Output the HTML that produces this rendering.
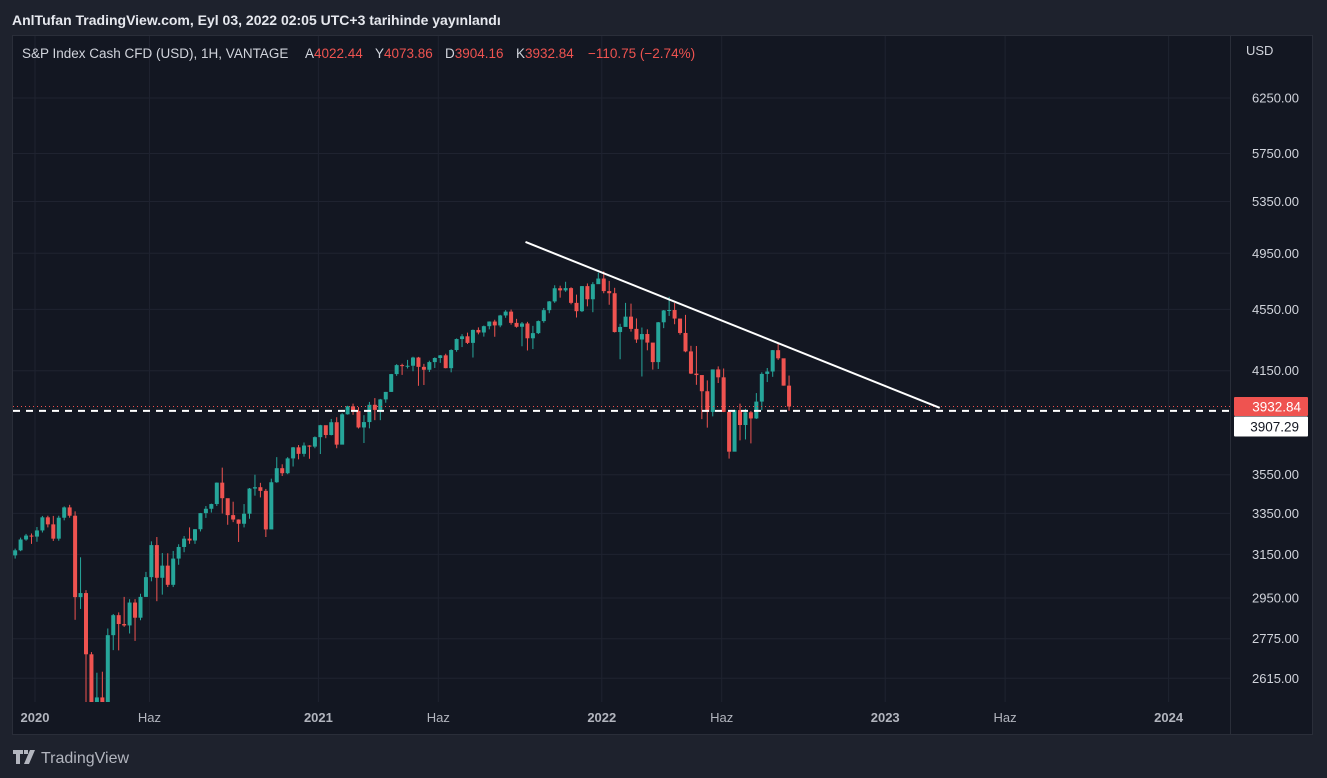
<!DOCTYPE html>
<html><head><meta charset="utf-8"><style>
html,body{margin:0;padding:0;background:#1e222d;width:1327px;height:778px;overflow:hidden;font-family:"Liberation Sans",sans-serif;}
svg text{font-family:"Liberation Sans",sans-serif;}
</style></head><body>
<svg id="chart" width="1327" height="778" xmlns="http://www.w3.org/2000/svg">
<rect x="0" y="0" width="1327" height="778" fill="#1e222d"/>
<text x="12" y="25" fill="#e6e8ee" font-size="14" font-weight="bold">AnlTufan TradingView.com, Eyl 03, 2022 02:05 UTC+3 tarihinde yayınlandı</text>
<rect x="12.5" y="35.5" width="1300" height="699" fill="#131722" stroke="#2a2e39"/>
<line x1="1230.5" y1="36" x2="1230.5" y2="734" stroke="#2a2e39"/>
<g id="grid"></g>
<defs><clipPath id="plotclip"><rect x="13" y="36" width="1217" height="666"/></clipPath></defs>
<g id="candles" clip-path="url(#plotclip)"></g>
<g id="overlay"></g>
<g id="yaxis"></g>
<g id="xaxis"></g>
<text y="58" font-size="13.5" fill="#d1d4dc"><tspan x="22">S&amp;P Index Cash CFD (USD), 1H, VANTAGE</tspan><tspan x="305">A</tspan><tspan fill="#ef5350">4022.44</tspan><tspan x="375">Y</tspan><tspan fill="#ef5350">4073.86</tspan><tspan x="445">D</tspan><tspan fill="#ef5350">3904.16</tspan><tspan x="516">K</tspan><tspan fill="#ef5350">3932.84</tspan><tspan x="588" fill="#ef5350">−110.75 (−2.74%)</tspan></text>
<text x="1246" y="55" font-size="13" fill="#d1d4dc">USD</text>
<g>
<path d="M13 750h10v4h-3v10h-4v-10h-3z M24 750h4v4h-4z M30 750h5l-6 14h-5z" fill="#b2b5be"/>
<text x="41" y="763" font-size="16" fill="#b2b5be">TradingView</text>
</g>
</svg>
<script>
const closes = [3145,3169,3221,3240,
3235,3265,3330,3295,3225,3328,3380,3338,2954,2972,2711,2305,2541,2489,2790,2875,2837,2831,2930,2864,2955,3044,3194,3041,3097,3009,3130,3185,3225,3216,3271,3351,3373,3397,3508,3427,3341,3319,3298,3348,3477,3484,3465,3270,3510,3585,3558,3638,3699,3663,3709,3703,3756,
3824,3768,3841,3714,3887,3934,3907,3811,3842,3943,3913,3975,4020,4129,4185,4180,4181,4233,4174,4156,4204,4230,4247,4166,4281,4352,4370,4327,4412,4395,4437,4468,4442,4509,4535,4459,4433,4455,4357,4391,4471,4545,4605,4697,4682,4698,4595,4538,4712,4620,4726,4766,
4677,4662,4398,4432,4501,4419,4349,4385,4329,4204,4463,4543,4546,4488,4392,4272,4132,4123,4024,3901,4158,4109,3901,3675,3912,3825,3899,3863,3962,4130,4145,4280,4228,4058,3933];
const opens = [3110,3145,3169,3221,
3240,3235,3265,3330,3295,3225,3328,3380,3338,2954,2972,2711,2305,2541,2489,2790,2875,2837,2831,2930,2864,2955,3044,3194,3041,3097,3009,3130,3185,3225,3216,3271,3351,3373,3397,3508,3427,3341,3319,3298,3348,3477,3484,3465,3270,3510,3585,3558,3638,3699,3663,3709,3703,
3756,3824,3768,3841,3714,3887,3934,3907,3811,3842,3943,3913,3975,4020,4129,4185,4180,4181,4233,4174,4156,4204,4230,4247,4166,4281,4352,4370,4327,4412,4395,4437,4468,4442,4509,4535,4459,4433,4455,4357,4391,4471,4545,4605,4697,4682,4698,4595,4538,4712,4620,4726,
4766,4677,4662,4398,4432,4501,4419,4349,4385,4329,4204,4463,4543,4546,4488,4392,4272,4132,4123,4024,3901,4158,4109,3901,3675,3912,3825,3899,3863,3962,4130,4145,4280,4228,4058];
const highs = [3155,3177,3230,3248,
3250,3282,3337,3338,3337,3338,3385,3393,3360,3136,2985,2720,2637,2641,2818,2880,2887,2955,2945,2945,2969,3068,3212,3233,3156,3155,3166,3198,3238,3280,3272,3352,3387,3399,3509,3588,3425,3409,3320,3397,3480,3550,3507,3475,3529,3645,3606,3645,3701,3712,3726,3711,3760,
3826,3820,3860,3870,3894,3937,3950,3929,3882,3960,3983,3978,4020,4130,4191,4194,4218,4238,4237,4193,4213,4234,4249,4257,4286,4356,4384,4394,4415,4429,4441,4469,4480,4513,4545,4549,4486,4465,4466,4439,4475,4560,4608,4718,4715,4743,4704,4652,4713,4731,4740,4808,
4818,4749,4700,4453,4595,4590,4489,4428,4416,4303,4465,4546,4637,4594,4471,4513,4308,4307,4081,4090,4158,4177,4164,3910,3914,3950,3919,3907,4013,4140,4167,4281,4325,4203,4120];
const lows = [3100,3130,3165,3215,
3200,3210,3255,3280,3214,3215,3315,3328,2855,2902,2478,2280,2191,2447,2476,2728,2727,2825,2797,2766,2853,2955,3025,2936,2965,2999,2999,3101,3160,3200,3200,3260,3327,3354,3387,3349,3293,3306,3209,3280,3323,3440,3431,3233,3279,3507,3543,3553,3594,3633,3648,3636,3694,
3662,3750,3766,3694,3725,3885,3884,3805,3723,3806,3853,3853,3955,4020,4118,4124,4164,4147,4057,4062,4142,4167,4199,4165,4140,4270,4300,4320,4233,4383,4368,4416,4367,4430,4493,4447,4427,4305,4278,4287,4385,4460,4524,4595,4631,4672,4585,4495,4532,4571,4531,4740,
4662,4582,4395,4222,4435,4401,4327,4114,4279,4157,4161,4424,4506,4450,4381,4267,4129,4063,3859,3810,3875,4074,3900,3637,3705,3738,3743,3721,3860,3911,4080,4112,4218,4058,3907];
const priceTicks = [6250,5750,5350,4950,4550,4150,3550,3350,3150,2950,2775,2615];
const timeLabels = ["2020","Haz","2021","Haz","2022","Haz","2023","Haz","2024"];
const timeLabelWeeks = [0,21,52,74,104,126,156,178,208];
const lastPrice = 3932.84;
const hLinePrice = 3907.29;
const trendStart = {week:90, price:5035};
const trendEnd = {week:166, price:3925};

const NS="http://www.w3.org/2000/svg";
const yOf = p => 98 + (Math.log(6250) - Math.log(p)) * 666;
const xOfWeek = w => 35 + w * 5.45;
const xOfIdx = i => xOfWeek(i - 4) - 3.5;
function mk(tag, attrs, parent){const e=document.createElementNS(NS,tag);for(const k in attrs)e.setAttribute(k,attrs[k]);parent.appendChild(e);return e;}

const grid=document.getElementById('grid');
priceTicks.forEach(p=>{
  const l=mk('line',{x1:13,x2:1230,y1:yOf(p),y2:yOf(p),stroke:'#1f2330'},grid);
  
  
});
timeLabelWeeks.forEach(w=>{
  const l=mk('line',{x1:xOfWeek(w),x2:xOfWeek(w),y1:36,y2:702,stroke:'#1f2330'},grid);
  
  
});

const cg=document.getElementById('candles');
closes.forEach((c,i)=>{
  const o=opens[i], up=c>=o, col=up?'#26a69a':'#ef5350', x=xOfIdx(i);
  const w=mk('line',{x1:x,x2:x,y1:yOf(highs[i]),y2:yOf(lows[i]),stroke:col,'stroke-width':1},cg);
  
  
  const top=yOf(Math.max(o,c)), bot=yOf(Math.min(o,c));
  const b=mk('rect',{x:x-2,y:top,width:4,height:Math.max(1,bot-top),fill:col},cg);
  
  
});

const ov=document.getElementById('overlay');
const pl=mk('line',{x1:13,x2:1230,y1:yOf(lastPrice),y2:yOf(lastPrice),stroke:'#ef5350','stroke-dasharray':'1 3'},ov);


const hl=mk('line',{x1:13,x2:1230,y1:yOf(hLinePrice),y2:yOf(hLinePrice),stroke:'#ffffff','stroke-width':2,'stroke-dasharray':'7 6'},ov);


const tl=mk('line',{x1:xOfWeek(trendStart.week),y1:yOf(trendStart.price),x2:xOfWeek(trendEnd.week),y2:yOf(trendEnd.price),stroke:'#ffffff','stroke-width':2},ov);



const ya=document.getElementById('yaxis');
priceTicks.forEach(p=>{
  const t=mk('text',{x:1299,y:yOf(p)+4.5,'text-anchor':'end','font-size':13,fill:'#d1d4dc'},ya);
  t.textContent=p.toFixed(2);
  
  
});
const r1=mk('rect',{x:1234,y:yOf(lastPrice)-9.5,width:74,height:19,fill:'#ef5350',rx:1},ya);


const t1=mk('text',{x:1301,y:yOf(lastPrice)+5,'text-anchor':'end','font-size':13.5,fill:'#ffffff'},ya);
t1.textContent=lastPrice.toFixed(2);


const r2=mk('rect',{x:1234,y:yOf(lastPrice)+10,width:74,height:20,fill:'#ffffff',rx:1},ya);


const t2=mk('text',{x:1299,y:yOf(lastPrice)+25,'text-anchor':'end','font-size':13.5,fill:'#131722'},ya);
t2.textContent=hLinePrice.toFixed(2);



const xa=document.getElementById('xaxis');
timeLabels.forEach((s,i)=>{
  const t=mk('text',{x:xOfWeek(timeLabelWeeks[i]),y:722,'text-anchor':'middle','font-size':13,'font-weight':s==='Haz'?'normal':'bold',fill:'#b2b5be'},xa);
  t.textContent=s;
  
  
});
</script>
</body></html>
